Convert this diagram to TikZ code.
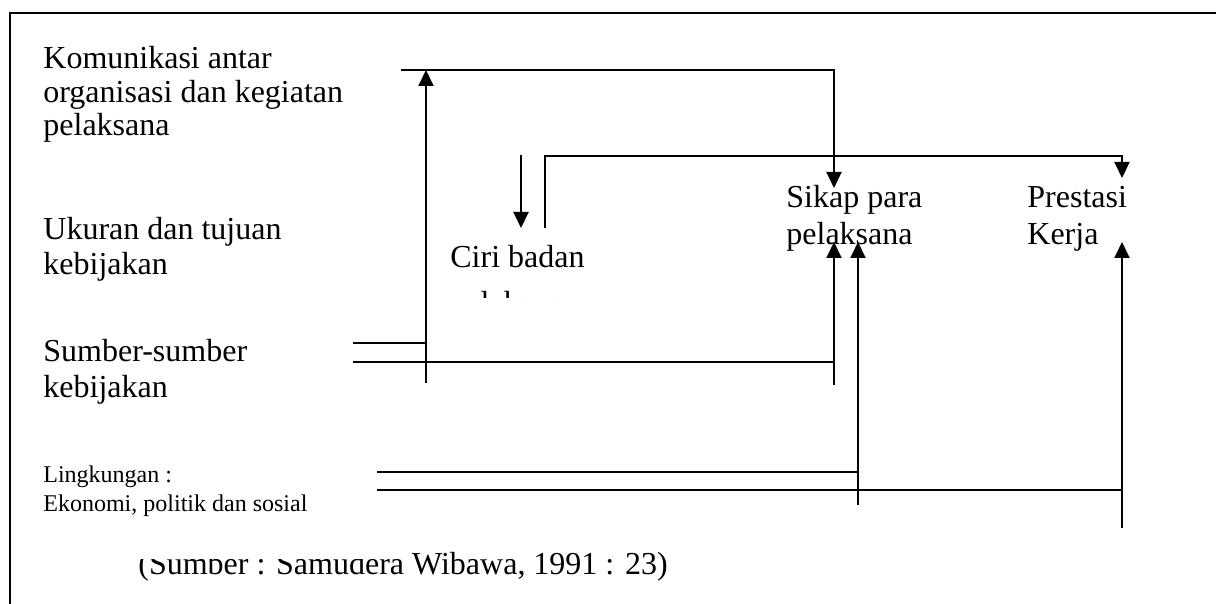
\documentclass[tikz,border=0pt]{standalone}
\usepackage{fontspec}
\setmainfont{Liberation Serif}
\usetikzlibrary{arrows.meta}
\begin{document}
\begin{tikzpicture}[x=0.5pt,y=-0.5pt,
  lbl/.style={anchor=base west,inner sep=0pt,font=\fontsize{16}{17}\selectfont},
  small/.style={anchor=base west,inner sep=0pt,font=\fontsize{12}{14}\selectfont},
  ln/.style={line width=1pt},
  arr/.style={line width=1pt,-{Triangle[length=8pt,width=7.5pt]}}]
\useasboundingbox (0,0) rectangle (1216,604);
% frame
\coordinate (fbl) at (10,604);
\coordinate (ftl) at (10,13);
\coordinate (ftr) at (1216,13);
\draw[ln] (fbl) -- (ftl) -- (ftr);
% texts
\node[lbl] (k1) at (43,69) {Komunikasi antar};
\node[lbl] (k2) at (43,103) {organisasi dan kegiatan};
\node[lbl] (k3) at (43,136) {pelaksana};
\node[lbl] (u1) at (43,240) {Ukuran dan tujuan};
\node[lbl] (u2) at (43,275) {kebijakan};
\node[lbl] (s1) at (43,362) {Sumber-sumber};
\node[lbl] (s2) at (43,397) {kebijakan};
\node[small] (l1) at (43,482) {Lingkungan :};
\node[small] (l2) at (43,511) {Ekonomi, politik dan sosial};
\node[lbl] (p1) at (786,208) {Sikap para};
\node[lbl] (p2) at (786,245) {pelaksana};
\node[lbl] (r1) at (1027,208) {Prestasi};
\node[lbl] (r2) at (1027,245) {Kerja};
\node[lbl] (c1) at (450,268) {Ciri badan};
\begin{scope}
  \clip (440,240) rectangle (620,298);
  \node[lbl] (c2) at (450,314) {pelaksana};
\end{scope}
\begin{scope}
  \clip (120,559) rectangle (380,604) (380,520) rectangle (720,604);
  \node[lbl] (src) at (138,574) {(Sumber : Samudera Wibawa, 1991 : 23)};
\end{scope}
% coordinates
\coordinate (a0) at (426,383);
\coordinate (a1) at (426,70);
\coordinate (t0) at (401,70);
\coordinate (t1) at (834,70);
\coordinate (t2) at (834,188);
\coordinate (b0) at (521,155);
\coordinate (b1) at (521,228);
\coordinate (c0) at (545,228);
\coordinate (cc) at (545,156);
\coordinate (cd) at (1122,156);
\coordinate (ce) at (1122,178);
\coordinate (s10) at (353,343);
\coordinate (s11) at (426,343);
\coordinate (s20) at (353,362);
\coordinate (s21) at (834,362);
\coordinate (d0) at (834,385);
\coordinate (d1) at (834,242);
\coordinate (e0) at (858,505);
\coordinate (e1) at (858,242);
\coordinate (g10) at (377,472);
\coordinate (g11) at (858,472);
\coordinate (g20) at (377,490);
\coordinate (g21) at (1122,490);
\coordinate (f0) at (1122,528);
\coordinate (f1) at (1122,242);
% connectors
\draw[arr] (a0) -- (a1);
\draw[arr] (t0) -- (t1) -- (t2);
\draw[arr] (b0) -- (b1);
\draw[arr] (c0) -- (cc) -- (cd) -- (ce);
\draw[ln] (s10) -- (s11);
\draw[ln] (s20) -- (s21);
\draw[arr] (d0) -- (d1);
\draw[arr] (e0) -- (e1);
\draw[ln] (g10) -- (g11);
\draw[ln] (g20) -- (g21);
\draw[arr] (f0) -- (f1);
\end{tikzpicture}
\end{document}
